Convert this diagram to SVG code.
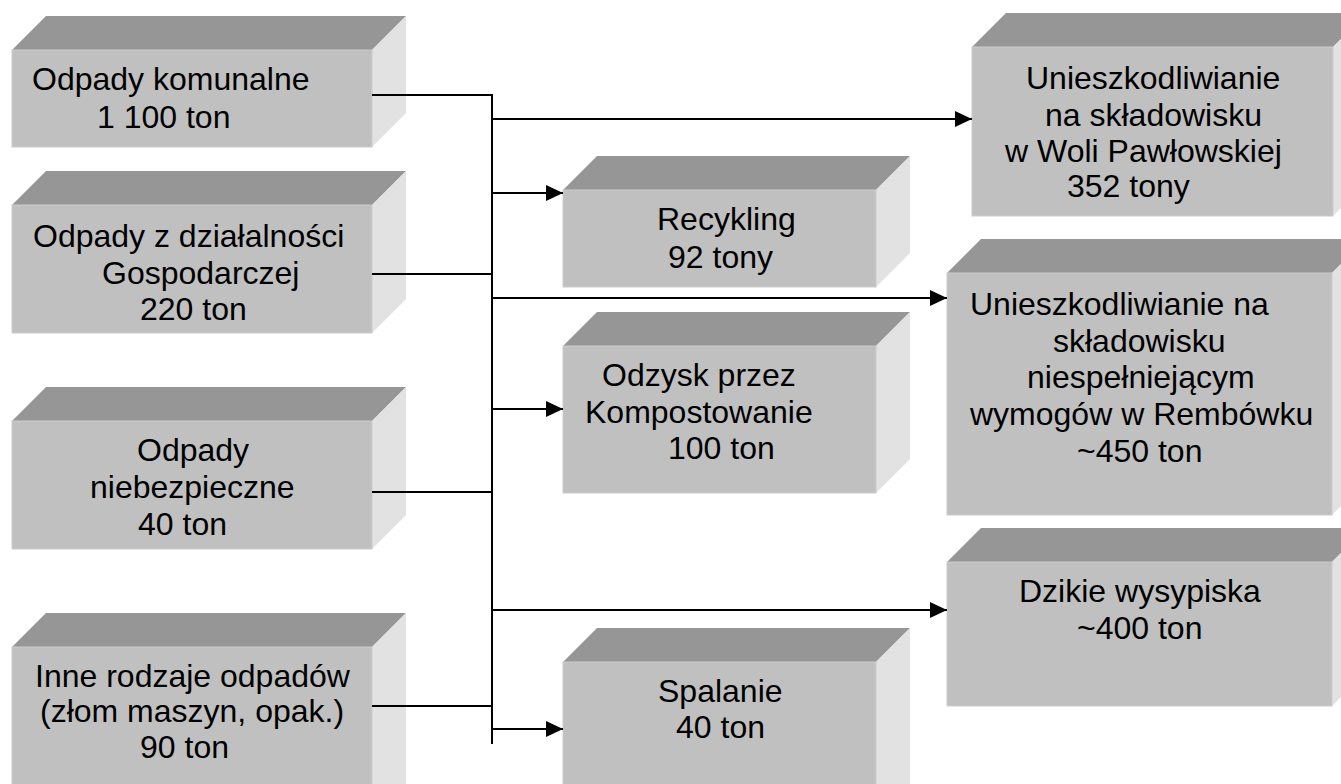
<svg xmlns="http://www.w3.org/2000/svg" width="1341" height="784" viewBox="0 0 1341 784">
<style>
.front{fill:#c0c0c0;stroke:#cccccc;stroke-width:1}
.top{fill:#969696}
.side{fill:#e2e2e2}
text{font-family:"Liberation Sans",Arial,sans-serif;font-size:32px;fill:#000}
.conn{stroke:#000;stroke-width:2;fill:none}
</style>
<defs>
<marker id="arr" markerUnits="userSpaceOnUse" markerWidth="18" markerHeight="16" refX="17" refY="8" orient="auto">
<path d="M0,0 L17,8 L0,16 Z" fill="#000"/>
</marker>
</defs>
<rect width="1341" height="784" fill="#fff"/>

<g id="n-komunalne">
<polygon class="top" points="12,50 46,16 406,16 372,50"/>
<polygon class="side" points="372,50 406,16 406,113 372,147"/>
<rect class="front" x="12" y="50" width="360" height="97"/>
<text x="32" y="90">Odpady komunalne</text>
<text x="97" y="128">1 100 ton</text>
</g>

<g id="n-gospodarcze">
<polygon class="top" points="12,205 46,171 406,171 372,205"/>
<polygon class="side" points="372,205 406,171 406,299 372,333"/>
<rect class="front" x="12" y="205" width="360" height="128"/>
<text x="33" y="247">Odpady z działalności</text>
<text x="102" y="284">Gospodarczej</text>
<text x="140" y="320">220 ton</text>
</g>

<g id="n-niebezpieczne">
<polygon class="top" points="12,421 46,387 406,387 372,421"/>
<polygon class="side" points="372,421 406,387 406,515 372,549"/>
<rect class="front" x="12" y="421" width="360" height="128"/>
<text x="137" y="461">Odpady</text>
<text x="90" y="498">niebezpieczne</text>
<text x="138" y="535">40 ton</text>
</g>

<g id="n-inne">
<polygon class="top" points="12,647 46,613 406,613 372,647"/>
<polygon class="side" points="372,647 406,613 406,800 372,800"/>
<rect class="front" x="12" y="647" width="360" height="160"/>
<text x="35" y="687">Inne rodzaje odpadów</text>
<text x="40" y="722">(złom maszyn, opak.)</text>
<text x="140" y="758">90 ton</text>
</g>

<g id="n-recykling">
<polygon class="top" points="563,190 597,156 910,156 876,190"/>
<polygon class="side" points="876,190 910,156 910,253 876,287"/>
<rect class="front" x="563" y="190" width="313" height="97"/>
<text x="657" y="230">Recykling</text>
<text x="668" y="268">92 tony</text>
</g>

<g id="n-kompost">
<polygon class="top" points="563,346 597,312 910,312 876,346"/>
<polygon class="side" points="876,346 910,312 910,459 876,493"/>
<rect class="front" x="563" y="346" width="313" height="147"/>
<text x="602" y="386">Odzysk przez</text>
<text x="585" y="423">Kompostowanie</text>
<text x="668" y="459">100 ton</text>
</g>

<g id="n-spalanie">
<polygon class="top" points="563,662 597,628 910,628 876,662"/>
<polygon class="side" points="876,662 910,628 910,800 876,800"/>
<rect class="front" x="563" y="662" width="313" height="140"/>
<text x="658" y="702">Spalanie</text>
<text x="676" y="738">40 ton</text>
</g>

<g id="n-wola">
<polygon class="top" points="972,47 1006,13 1367,13 1333,47"/>
<polygon class="side" points="1333,47 1367,13 1367,182 1333,216"/>
<rect class="front" x="972" y="47" width="361" height="169"/>
<text x="1026" y="89">Unieszkodliwianie</text>
<text x="1045" y="126">na składowisku</text>
<text x="1005" y="162">w Woli Pawłowskiej</text>
<text x="1067" y="197">352 tony</text>
</g>

<g id="n-rembowek">
<polygon class="top" points="947,273 981,239 1366,239 1332,273"/>
<polygon class="side" points="1332,273 1366,239 1366,481 1332,515"/>
<rect class="front" x="947" y="273" width="385" height="242"/>
<text x="970" y="315">Unieszkodliwianie na</text>
<text x="1053" y="352">składowisku</text>
<text x="1027" y="388">niespełniejącym</text>
<text x="970" y="425">wymogów w Rembówku</text>
<text x="1077" y="462">~450 ton</text>
</g>

<g id="n-dzikie">
<polygon class="top" points="947,562 981,528 1366,528 1332,562"/>
<polygon class="side" points="1332,562 1366,528 1366,672 1332,706"/>
<rect class="front" x="947" y="562" width="385" height="144"/>
<text x="1019" y="602">Dzikie wysypiska</text>
<text x="1077" y="639">~400 ton</text>
</g>

<g id="connectors">
<line class="conn" x1="492" y1="94" x2="492" y2="744"/>
<line class="conn" x1="372" y1="95" x2="493" y2="95"/>
<line class="conn" x1="372" y1="274" x2="493" y2="274"/>
<line class="conn" x1="372" y1="492" x2="493" y2="492"/>
<line class="conn" x1="372" y1="706" x2="493" y2="706"/>
<line class="conn" x1="492" y1="119" x2="972" y2="119" marker-end="url(#arr)"/>
<line class="conn" x1="492" y1="193" x2="563" y2="193" marker-end="url(#arr)"/>
<line class="conn" x1="492" y1="298" x2="947" y2="298" marker-end="url(#arr)"/>
<line class="conn" x1="492" y1="409" x2="563" y2="409" marker-end="url(#arr)"/>
<line class="conn" x1="492" y1="610" x2="947" y2="610" marker-end="url(#arr)"/>
<line class="conn" x1="492" y1="729" x2="563" y2="729" marker-end="url(#arr)"/>
</g>
</svg>
